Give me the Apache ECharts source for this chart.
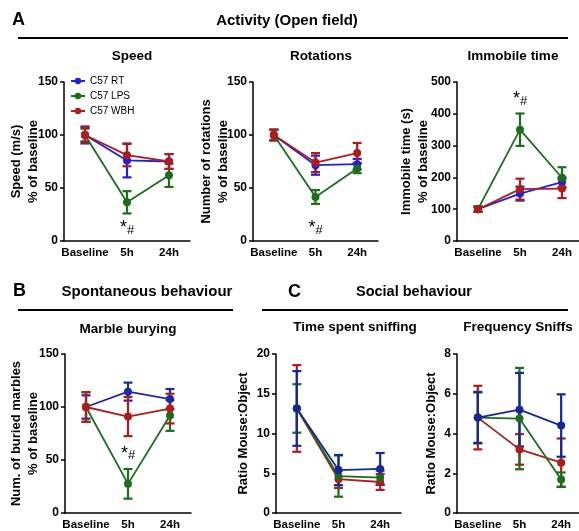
<!DOCTYPE html>
<html>
<head>
<meta charset="utf-8">
<script src="https://cdn.jsdelivr.net/npm/echarts@6/dist/echarts.min.js"></script>
<style>
html,body{margin:0;padding:0;background:#fff;}
#chart{width:579px;height:531px;}
</style>
</head>
<body>
<div id="chart"></div>
<script>
// ---------------- DATA ----------------
const categories = ['Baseline', '5h', '24h'];
const groupNames = ['C57 RT', 'C57 LPS', 'C57 WBH'];

// Speed (% of baseline)
const speedRT = [100, 76, 75];      const speedRTErr = [8, 16, 7];
const speedLPS = [100, 36.5, 62];   const speedLPSErr = [6, 10.5, 11];
const speedWBH = [100, 81, 75];     const speedWBHErr = [7, 10.5, 7];

// Rotations (% of baseline)
const rotRT = [100, 71.5, 72.5];    const rotRTErr = [5, 9, 5];
const rotLPS = [100, 41.5, 68.5];   const rotLPSErr = [5, 6.5, 4.5];
const rotWBH = [100, 74, 83];       const rotWBHErr = [5, 9, 9.5];

// Immobile time (% of baseline)
const immRT = [100, 149, 185];      const immRTErr = [8, 22, 15];
const immLPS = [100, 350, 199];     const immLPSErr = [8, 51, 33];
const immWBH = [100, 163, 165];     const immWBHErr = [8, 33, 30];

// Marble burying (% of baseline)
const marbRT = [100, 114.5, 107.5]; const marbRTErr = [11, 8.5, 9.5];
const marbLPS = [100, 27.5, 92];    const marbLPSErr = [14, 14, 14.5];
const marbWBH = [100, 91, 98.5];    const marbWBHErr = [14, 18.5, 14];

// Time spent sniffing (ratio)
const sniffRT = [13.15, 5.4, 5.55];  const sniffRTErr = [4.7, 1.9, 2.0];
const sniffLPS = [13.15, 4.65, 4.45]; const sniffLPSErr = [3.05, 2.6, 0.9];
const sniffWBH = [13.15, 4.25, 3.9]; const sniffWBHErr = [5.45, 1.1, 1.0];

// Frequency sniffs (ratio)
const freqRT = [4.8, 5.2, 4.4];     const freqRTErr = [1.27, 1.85, 1.57];
const freqLPS = [4.8, 4.75, 1.68];  const freqLPSErr = [1.3, 2.55, 0.36];
const freqWBH = [4.8, 3.2, 2.53];   const freqWBHErr = [1.6, 0.77, 1.22];

// Significance annotation positions (category index, value)
const sigSpeed = [1, 10];
const sigRot = [1, 10];
const sigImm = [1, 440];
const sigMarb = [1, 54];

// ---------------- STYLE ----------------
const FONT = '"Liberation Sans", Arial, sans-serif';
const colTop = {RT: '#1e22d8', LPS: '#1b6e1b', WBH: '#b01c1c'};
const colB = {RT: '#1a2aa8', LPS: '#1b6e1b', WBH: '#b01c1c'};
const colC = {RT: '#142896', LPS: '#1b6e1b', WBH: '#b01c1c'};

const panels = [
  {grid: {left: 64, top: 82, width: 126, height: 159}, max: 150, interval: 50,
   name: 'Speed (m/s)\n% of baseline', nameGap: 22, cols: colTop,
   groups: [['RT', speedRT, speedRTErr], ['LPS', speedLPS, speedLPSErr], ['WBH', speedWBH, speedWBHErr]], sig: sigSpeed},
  {grid: {left: 253, top: 82, width: 125, height: 159}, max: 150, interval: 50,
   name: 'Number of rotations\n% of baseline', nameGap: 21, cols: colTop,
   groups: [['RT', rotRT, rotRTErr], ['LPS', rotLPS, rotLPSErr], ['WBH', rotWBH, rotWBHErr]], sig: sigRot},
  {grid: {left: 457, top: 82, width: 126, height: 159}, max: 500, interval: 100,
   name: 'Immobile time (s)\n% of baseline', nameGap: 25, cols: colTop,
   groups: [['RT', immRT, immRTErr], ['LPS', immLPS, immLPSErr], ['WBH', immWBH, immWBHErr]], sig: sigImm},
  {grid: {left: 65, top: 354, width: 126, height: 159}, max: 150, interval: 50,
   name: 'Num. of buried marbles\n% of baseline', nameGap: 23, cols: colB,
   groups: [['RT', marbRT, marbRTErr], ['LPS', marbLPS, marbLPSErr], ['WBH', marbWBH, marbWBHErr]], sig: sigMarb},
  {grid: {left: 276, top: 354, width: 125, height: 159}, max: 20, interval: 5,
   name: 'Ratio Mouse:Object', nameGap: 24, cols: colC,
   groups: [['WBH', sniffWBH, sniffWBHErr], ['LPS', sniffLPS, sniffLPSErr], ['RT', sniffRT, sniffRTErr]], sig: null},
  {grid: {left: 457, top: 354, width: 125, height: 159}, max: 8, interval: 2,
   name: 'Ratio Mouse:Object', nameGap: 17, cols: colC,
   groups: [['WBH', freqWBH, freqWBHErr], ['LPS', freqLPS, freqLPSErr], ['RT', freqRT, freqRTErr]], sig: null}
];
const nameOf = {RT: 'C57 RT', LPS: 'C57 LPS', WBH: 'C57 WBH'};

const grids = [], xAxes = [], yAxes = [], series = [];
panels.forEach((p, i) => {
  grids.push(Object.assign({containLabel: false, outerBoundsMode: 'none'}, p.grid));
  xAxes.push({
    type: 'category', gridIndex: i, data: categories, boundaryGap: true,
    axisLine: {lineStyle: {color: '#000', width: 1.5}},
    axisTick: {alignWithLabel: true, length: 4, lineStyle: {color: '#000', width: 1.5}},
    axisLabel: {color: '#000', fontWeight: 'bold', fontSize: 11.5, fontFamily: FONT, margin: 6, interval: 0}
  });
  yAxes.push({
    type: 'value', gridIndex: i, min: 0, max: p.max, interval: p.interval,
    splitLine: {show: false},
    axisLine: {show: true, lineStyle: {color: '#000', width: 1.5}},
    axisTick: {show: true, length: 4, lineStyle: {color: '#000', width: 1.5}},
    axisLabel: {color: '#000', fontWeight: 'bold', fontSize: 12, fontFamily: FONT, margin: 6},
    name: p.name, nameLocation: 'middle', nameRotate: 90, nameGap: p.nameGap,
    nameMoveOverlap: false,
    nameTextStyle: {color: '#000', fontWeight: 'bold', fontSize: 13, fontFamily: FONT, lineHeight: 17}
  });
  p.groups.forEach(([key, mean, err]) => {
    const color = p.cols[key];
    const errData = mean.map((m, k) => [k, m - err[k], m + err[k]]);
    series.push({
      type: 'custom', xAxisIndex: i, yAxisIndex: i, name: nameOf[key] + ' SEM',
      data: errData, silent: true, z: 2, itemStyle: {color: color},
      renderItem: function (params, api) {
        const lo = api.coord([api.value(0), api.value(1)]);
        const hi = api.coord([api.value(0), api.value(2)]);
        const hw = 4.5;
        const st = {stroke: color, lineWidth: 2.2};
        return {type: 'group', children: [
          {type: 'line', shape: {x1: lo[0], y1: lo[1], x2: hi[0], y2: hi[1]}, style: st},
          {type: 'line', shape: {x1: lo[0] - hw, y1: lo[1], x2: lo[0] + hw, y2: lo[1]}, style: st},
          {type: 'line', shape: {x1: hi[0] - hw, y1: hi[1], x2: hi[0] + hw, y2: hi[1]}, style: st}
        ]};
      }
    });
    const s = {
      type: 'line', xAxisIndex: i, yAxisIndex: i, name: nameOf[key],
      data: mean, symbol: 'circle', symbolSize: 8, z: 3,
      lineStyle: {color: color, width: 1.8},
      itemStyle: {color: color},
      animation: false
    };
    if (key === 'LPS' && p.sig) {
      s.markPoint = {
        symbol: 'circle', symbolSize: 1, itemStyle: {color: 'rgba(0,0,0,0)'},
        data: [{coord: p.sig}],
        label: {show: true, position: 'inside', formatter: '{a|*}{b|#}',
          rich: {a: {fontSize: 18, fontFamily: FONT, color: '#000', padding: [0, 0, 4, 0]},
                 b: {fontSize: 13, fontFamily: FONT, color: '#000'}}}
      };
    }
    series.push(s);
  });
});

function txt(text, x, y, size, align) {
  return {type: 'text', x: x, y: y, style: {text: text, font: 'bold ' + size + 'px ' + FONT,
    fill: '#000', textAlign: align || 'center', textVerticalAlign: 'middle',
    align: align || 'center', verticalAlign: 'middle'}};
}
function hline(x1, x2, y) {
  return {type: 'line', shape: {x1: x1, y1: y, x2: x2, y2: y}, style: {stroke: '#000', lineWidth: 2}};
}

const graphics = [
  txt('A', 12, 20, 18, 'left'),
  txt('Activity (Open field)', 287, 21, 15),
  hline(18, 568, 38),
  txt('Speed', 132, 56, 13.5),
  txt('Rotations', 321, 56, 13.5),
  txt('Immobile time', 513, 56, 13.5),
  txt('B', 13, 291, 18, 'left'),
  txt('Spontaneous behaviour', 147, 292, 15),
  hline(18, 233, 310),
  txt('Marble burying', 128, 329, 13.5),
  txt('C', 288, 292, 18, 'left'),
  txt('Social behaviour', 414, 292, 14.5),
  hline(262, 568, 310),
  txt('Time spent sniffing', 355, 327, 13.5),
  txt('Frequency Sniffs', 518, 327, 13.5)
];

const chart = echarts.init(document.getElementById('chart'), null, {renderer: 'canvas'});
chart.setOption({
  animation: false,
  backgroundColor: '#fff',
  textStyle: {fontFamily: FONT},
  grid: grids,
  xAxis: xAxes,
  yAxis: yAxes,
  legend: {
    data: groupNames, orient: 'vertical', left: 70, top: 76,
    itemWidth: 14, itemHeight: 8, itemGap: 5, padding: 0,
    textStyle: {fontSize: 10, color: '#000', fontFamily: FONT}
  },
  series: series,
  graphic: graphics
});
</script>
</body>
</html>
